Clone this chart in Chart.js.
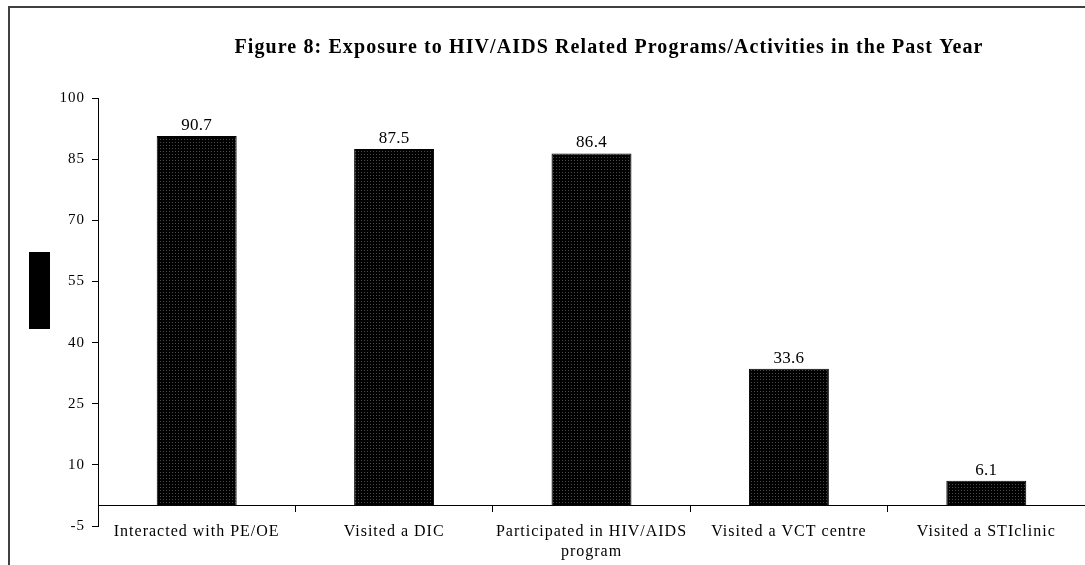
<!DOCTYPE html>
<html>
<head>
<meta charset="utf-8">
<script src="https://cdn.jsdelivr.net/npm/chart.js@4"></script>
<style>
  html, body { margin: 0; padding: 0; background: #fff; }
  #wrap { width: 1085px; height: 565px; position: relative; }
</style>
</head>
<body>
<div id="wrap"><canvas id="myChart" width="1085" height="565"></canvas></div>
<script>
// chart data
const categories = [
  "Interacted with PE/OE",
  "Visited a DIC",
  ["Participated in HIV/AIDS", "program"],
  "Visited a VCT centre",
  "Visited a STIclinic"
];
const values = [90.7, 87.5, 86.4, 33.6, 6.1];
const titleText = "Figure 8: Exposure to HIV/AIDS Related Programs/Activities in the Past Year";

const serif = "'Liberation Serif', 'Times New Roman', serif";

// dotted black fill like the original
function makePattern() {
  const c = document.createElement('canvas');
  c.width = 3; c.height = 3;
  const p = c.getContext('2d');
  p.fillStyle = '#000';
  p.fillRect(0, 0, 3, 3);
  p.fillStyle = '#4a4a4a';
  p.fillRect(1, 1, 1, 1);
  return p.createPattern(c, 'repeat');
}

const ctx = document.getElementById("myChart").getContext("2d");

// frame, title and the black box on the left
const decorPlugin = {
  id: 'decor',
  beforeDraw(chart) {
    const c = chart.ctx;
    c.save();
    c.fillStyle = '#fff';
    c.fillRect(0, 0, chart.width, chart.height);
    c.strokeStyle = '#404040';
    c.lineWidth = 2;
    c.beginPath();
    c.moveTo(9, chart.height);
    c.lineTo(9, 7);
    c.lineTo(chart.width, 7);
    c.stroke();
    c.fillStyle = '#000';
    c.fillRect(29, 252, 21, 77);
    c.font = "bold 20px " + serif;
    c.letterSpacing = '1.1px';
    c.textAlign = 'center';
    c.textBaseline = 'alphabetic';
    c.fillText(titleText, 609, 53);
    c.restore();
    // the axis labels in the original are spaced out a bit
    c.letterSpacing = '1px';
  },
  afterDatasetsDraw(chart) {
    const c = chart.ctx;
    const meta = chart.getDatasetMeta(0);
    c.save();
    c.letterSpacing = '0.3px';
    c.font = "17px " + serif;
    c.fillStyle = '#000';
    c.textAlign = 'center';
    c.textBaseline = 'alphabetic';
    meta.data.forEach((bar, i) => {
      c.fillText(values[i].toFixed(1), bar.x, bar.y - 6);
    });
    c.restore();
  },
  afterDraw(chart) {
    chart.ctx.letterSpacing = '0px';
  }
};

const myChart = new Chart(ctx, {
  type: 'bar',
  data: {
    labels: categories,
    datasets: [{
      data: values,
      backgroundColor: makePattern(),
      borderColor: '#000',
      borderWidth: 1,
      categoryPercentage: 1,
      barPercentage: 0.405
    }]
  },
  options: {
    responsive: false,
    animation: false,
    layout: { padding: { top: 98, bottom: 39, left: 0, right: 0 } },
    plugins: {
      legend: { display: false },
      title: { display: false },
      tooltip: { enabled: false }
    },
    scales: {
      x: {
        position: { y: 0 },
        grid: { offset: true, drawOnChartArea: false, drawTicks: true, tickLength: 6, color: '#000' },
        border: { display: true, color: '#000', width: 1 },
        ticks: {
          color: '#000',
          font: { family: serif, size: 16 },
          padding: 11,
          maxRotation: 0,
          autoSkip: false
        }
      },
      y: {
        min: -5,
        max: 100,
        afterFit(scale) { scale.width = 98; },
        grid: { drawOnChartArea: false, drawTicks: true, tickLength: 6, color: '#000' },
        border: { display: true, color: '#000', width: 1 },
        ticks: {
          stepSize: 15,
          color: '#000',
          font: { family: serif, size: 15 },
          padding: 7
        }
      }
    }
  },
  plugins: [decorPlugin]
});
</script>
</body>
</html>
